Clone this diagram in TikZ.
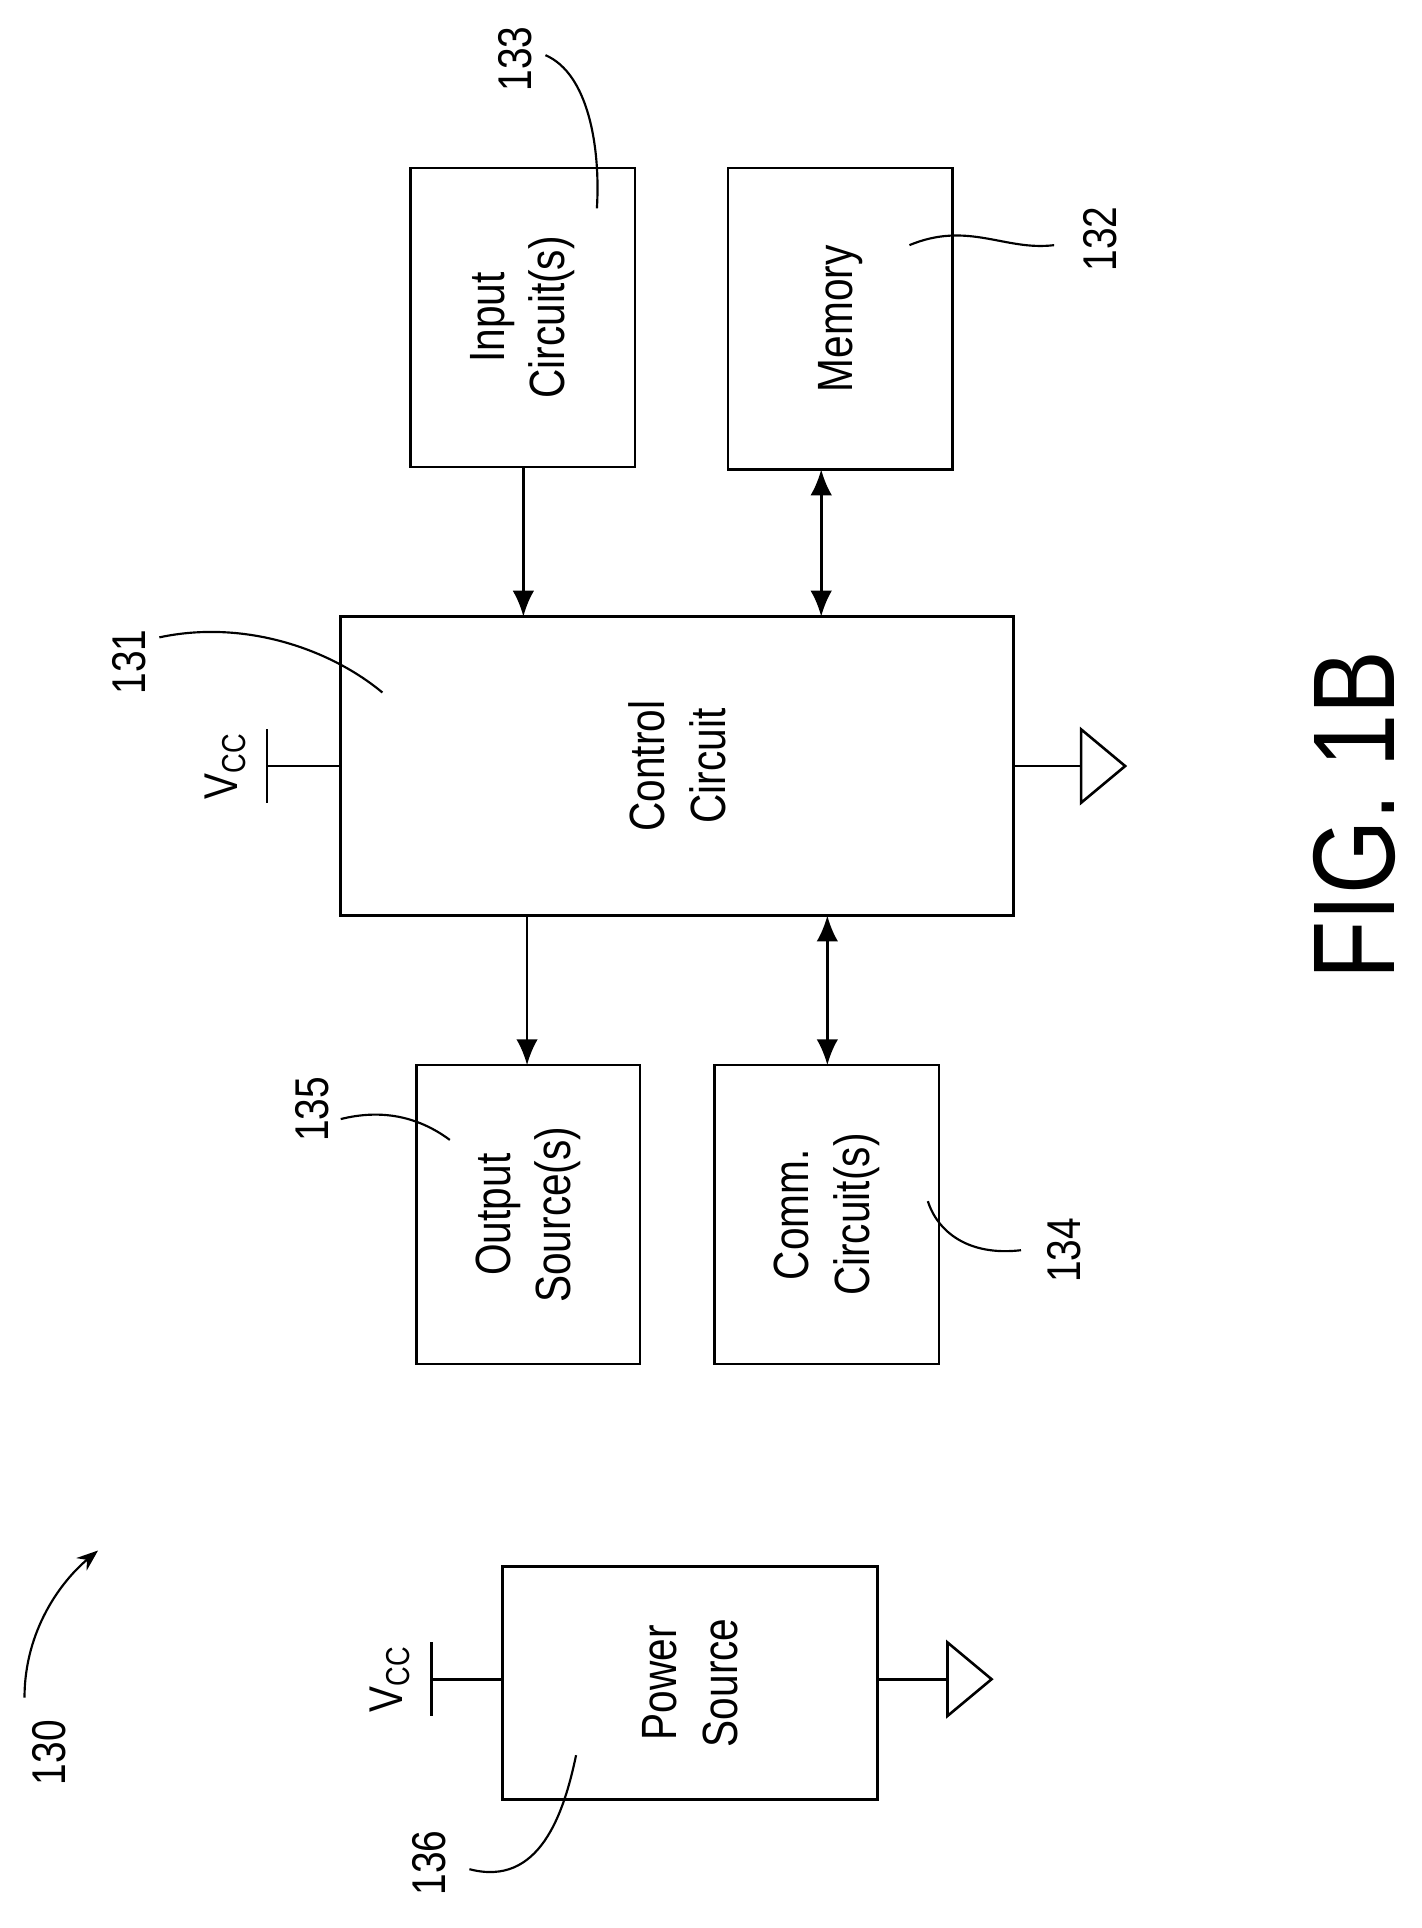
\documentclass[tikz,border=0pt]{standalone}
\usepackage{fontspec}
\setmainfont{Liberation Sans}[FakeStretch=0.82]
\usetikzlibrary{arrows.meta}
\begin{document}
\begin{tikzpicture}[x=0.02cm, y=-0.02cm,
    line width=1.2pt,
    block/.style={draw, line width=1.2pt, inner sep=0pt},
    txt/.style={rotate=90, align=center, font=\fontsize{23}{28}\selectfont},
    lbl/.style={rotate=90, font=\fontsize{22}{26}\selectfont},
    arrow/.style={-{Latex[length=12pt,width=10pt]}},
    biarrow/.style={{Latex[length=12pt,width=10pt]}-{Latex[length=12pt,width=10pt]}},
    lead/.style={line width=1pt}
  ]
  \useasboundingbox (0,0) rectangle (1160,1573);

  % blocks
  \draw[block] (335,137) rectangle (518,381);
  \node[txt] (input) at (426.5,259) {Input\\Circuit(s)};
  \draw[block] (594,137) rectangle (777,383);
  \node[txt] (memory) at (685.5,260) {Memory};
  \draw[block] (278,503) rectangle (827,747);
  \node[txt] (control) at (552.5,625) {Control\\Circuit};
  \draw[block] (340,869) rectangle (522,1113);
  \node[txt] (output) at (431,991) {Output\\Source(s)};
  \draw[block] (583,869) rectangle (766,1113);
  \node[txt] (comm) at (674.5,991) {Comm.\\Circuit(s)};
  \draw[block] (410,1278) rectangle (716,1468);
  \node[txt] (power) at (563,1373) {Power\\Source};

  % connectors
  \coordinate (inS) at (427,381);  \coordinate (ctlN1) at (427,503);
  \coordinate (memS) at (670,383); \coordinate (ctlN2) at (670,503);
  \coordinate (ctlS1) at (430,747); \coordinate (outN) at (430,869);
  \coordinate (ctlS2) at (675,747); \coordinate (comN) at (675,869);
  \draw[arrow] (inS) -- (ctlN1);
  \draw[biarrow] (memS) -- (ctlN2);
  \draw[arrow] (ctlS1) -- (outN);
  \draw[biarrow] (ctlS2) -- (comN);

  % supply and ground
  \foreach \yy/\xl/\xv/\xr/\xg in {625/278/218/827/882, 1370/410/352/716/773} {
    \draw (\xl,\yy) -- (\xv,\yy);
    \draw (\xv,\yy-30) -- (\xv,\yy+30);
    \node[lbl] at (\xv-34,\yy) {V\textsubscript{CC}};
    \draw (\xr,\yy) -- (\xg,\yy);
    \draw (\xg,\yy-30) -- (\xg,\yy+30) -- (\xg+36,\yy) -- cycle;
  }

  % reference numerals
  \node[lbl] (n133) at (420,48) {133};
  \draw[lead] (445,45) .. controls (480,60) and (490,120) .. (487,170);
  \node[lbl] (n132) at (898,195) {132};
  \draw[lead] (860,200) .. controls (820,205) and (790,180) .. (742,200);
  \node[lbl] (n131) at (105,540) {131};
  \draw[lead] (130,520) .. controls (200,505) and (270,530) .. (312,565);
  \node[lbl] (n135) at (255,905) {135};
  \draw[lead] (278,913) .. controls (310,905) and (340,910) .. (367,930);
  \node[lbl] (n134) at (868,1020) {134};
  \draw[lead] (833,1020) .. controls (790,1025) and (765,1005) .. (757,980);
  \node[lbl] (n136) at (350,1520) {136};
  \draw[lead] (383,1525) .. controls (440,1540) and (460,1480) .. (470,1432);
  \node[lbl] (n130) at (40,1430) {130};
  \draw[lead, -{Stealth[length=10pt]}] (20,1385) .. controls (20,1330) and (50,1290) .. (80,1265);

  \node[rotate=90, font=\fontsize{54}{58}\selectfont] (fig) at (1105,665) {FIG. 1B};
\end{tikzpicture}
\end{document}
